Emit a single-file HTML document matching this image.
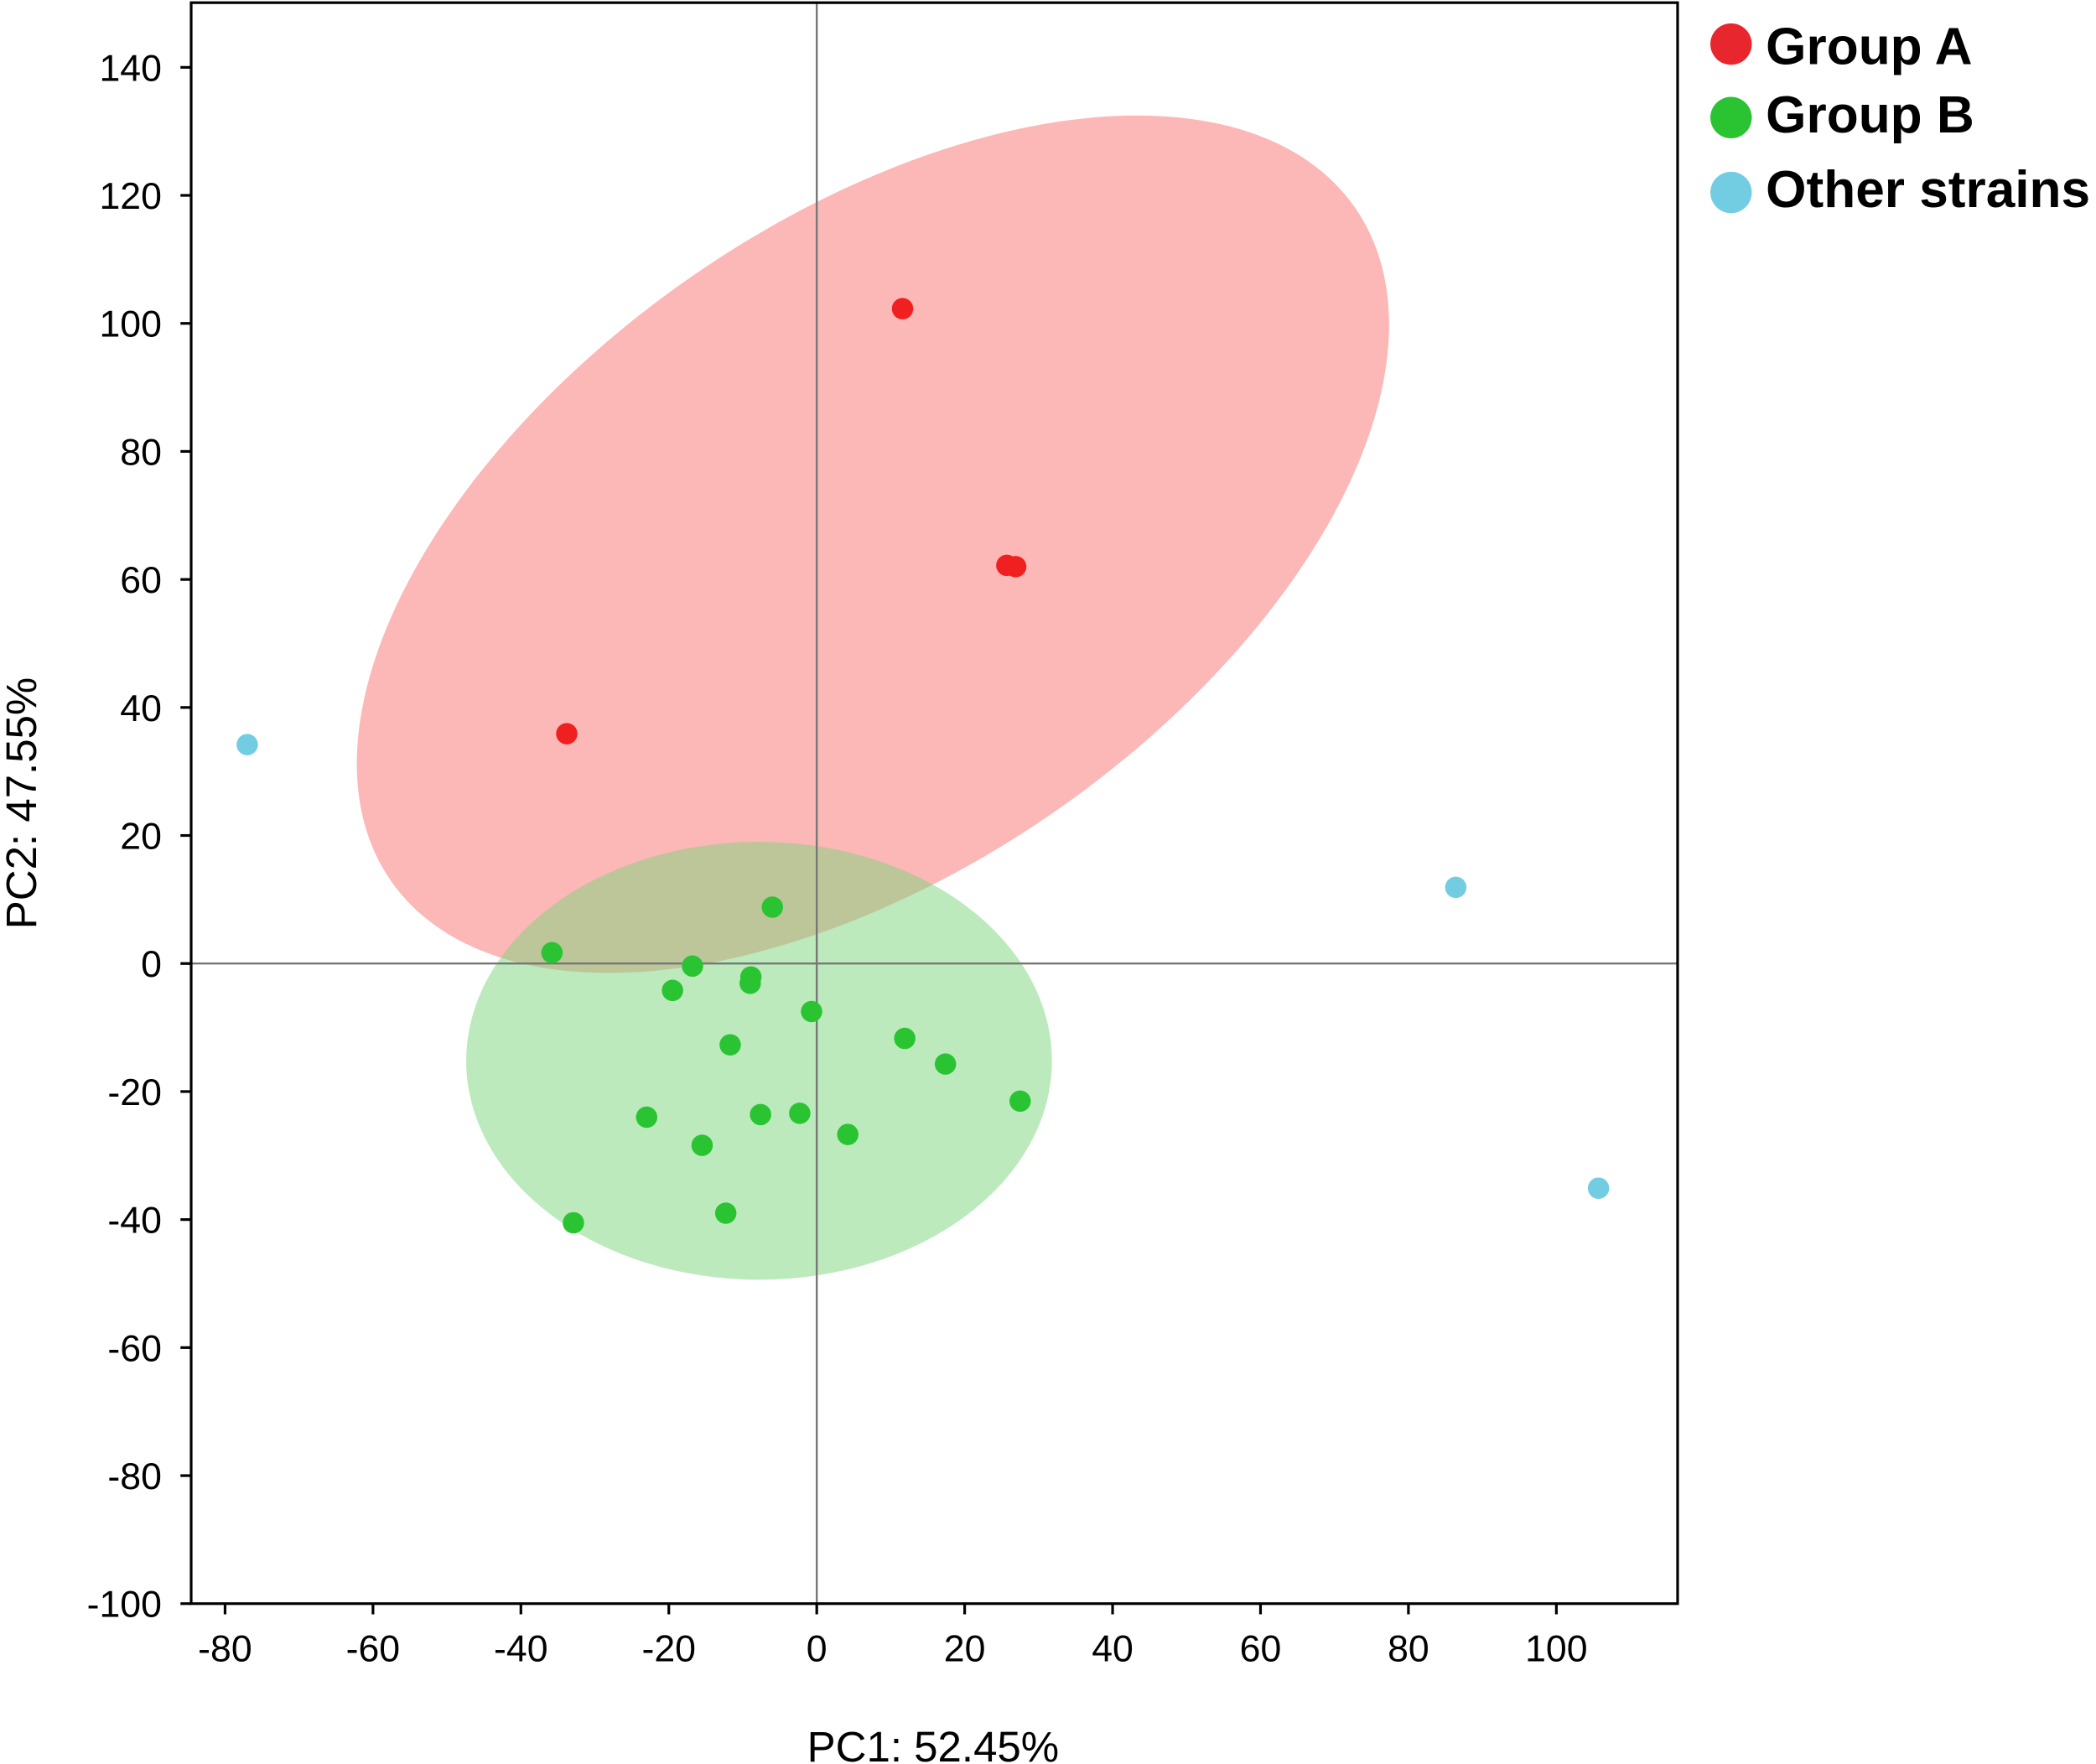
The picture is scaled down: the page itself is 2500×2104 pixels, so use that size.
<!DOCTYPE html>
<html><head><meta charset="utf-8"><style>
html,body{margin:0;padding:0;background:#fff}
svg{display:block}
text{font-family:"Liberation Sans",Arial,sans-serif}
</style></head><body>
<svg id="chart" width="2500" height="2104" viewBox="0 0 1568 1320" preserveAspectRatio="none">
<g id="ell"></g>
<g id="axes"></g>
<g id="pts"></g>
<g>
 <g><circle cx="1295" cy="33" r="15.5" fill="#e8262e"/><text x="1321" y="48" font-size="39" font-weight="bold">Group A</text></g>
 <g><circle cx="1295" cy="88" r="15.5" fill="#2ac432"/><text x="1321" y="99" font-size="39" font-weight="bold">Group B</text></g>
 <g><circle cx="1295" cy="144" r="15.5" fill="#73cde2"/><text x="1321" y="155" font-size="39" font-weight="bold">Other strains</text></g>
</g>
<text x="698" y="1318" font-size="32" text-anchor="middle">PC1: 52.45%</text>
<text transform="translate(27,601) rotate(-90)" font-size="32" text-anchor="middle">PC2: 47.55%</text>
</svg>
<script>
const xTicks=[-80,-60,-40,-20,0,20,40,60,80,100];
const yTicks=[140,120,100,80,60,40,20,0,-20,-40,-60,-80,-100];
const groupAX=[11.6,25.7,26.9,-33.8];
const groupAY=[102.3,62.2,62.0,35.9];
const groupBX=[-6,-35.8,-16.8,-8.9,-9,-19.5,-0.7,-11.7,11.9,17.4,27.5,-23,-7.6,-2.3,-15.5,4.2,-12.3,-32.9];
const groupBY=[8.8,1.7,-0.4,-2.1,-3.1,-4.2,-7.5,-12.7,-11.7,-15.7,-21.5,-24,-23.6,-23.4,-28.4,-26.7,-39,-40.5];
const otherX=[-77,86.4,105.7];
const otherY=[34.2,11.9,-35.1];
const ellA=[7.6,65.5,79.5,50.5,-35];
const ellB=[-7.8,-15.2,39.6,34.2,0];

const L=143,R=1255,T=2,B=1200;
const X=v=>611+v*5.533, Y=v=>721-v*4.79;
const NS="http://www.w3.org/2000/svg";
function mk(tag,attrs,parent){const e=document.createElementNS(NS,tag);for(const k in attrs)e.setAttribute(k,attrs[k]);parent.appendChild(e);return e;}
const ell=document.getElementById('ell'),axes=document.getElementById('axes'),pts=document.getElementById('pts');
function drawEll(p,fill,name){
 const cx=X(p[0]),cy=Y(p[1]);
 const e=mk('ellipse',{cx:cx,cy:cy,rx:p[2]*5.533,ry:p[3]*4.79,fill:fill,'fill-opacity':0.5,transform:`rotate(${p[4]} ${cx} ${cy})`},ell);
 
 
}
drawEll(ellA,'#fa7070','ellipse-group-a');
drawEll(ellB,'#7cd67c','ellipse-group-b');
const zx=mk('line',{x1:X(0),x2:X(0),y1:T,y2:B,stroke:'#777','stroke-width':1.5},axes);


const zy=mk('line',{x1:L,x2:R,y1:Y(0),y2:Y(0),stroke:'#777','stroke-width':1.5},axes);


const fr=mk('rect',{x:L,y:T,width:R-L,height:B-T,fill:'none',stroke:'#000','stroke-width':2},axes);


xTicks.forEach(v=>{
 mk('line',{x1:X(v),x2:X(v),y1:B,y2:B+8,stroke:'#000','stroke-width':2},axes);
 const t=mk('text',{x:X(v),y:B+43,'font-size':28,'text-anchor':'middle'},axes);
 t.textContent=v;
 
 
});
yTicks.forEach(v=>{
 mk('line',{x1:L-8,x2:L,y1:Y(v),y2:Y(v),stroke:'#000','stroke-width':2},axes);
 const t=mk('text',{x:L-22,y:Y(v)+10,'font-size':28,'text-anchor':'end'},axes);
 t.textContent=v;
 
 
});
function drawPts(xs,ys,col,name){
 xs.forEach((x,i)=>{
  const c=mk('circle',{cx:X(x),cy:Y(ys[i]),r:8,fill:col},pts);
  
  
 });
}
drawPts(groupBX,groupBY,'#2ac432','point-group-b');
drawPts(groupAX,groupAY,'#f02020','point-group-a');
drawPts(otherX,otherY,'#73cde2','point-other-strain');
</script>
</body></html>
